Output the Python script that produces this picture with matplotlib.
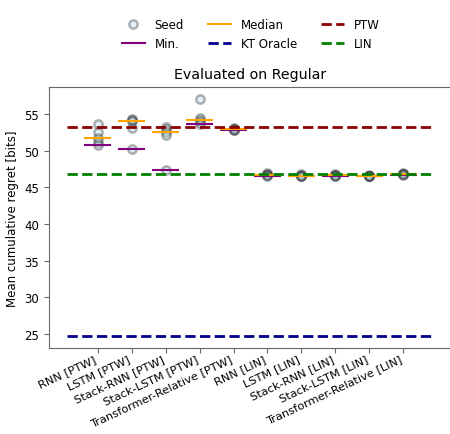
import numpy as np
import matplotlib
matplotlib.use("Agg")
import matplotlib.pyplot as plt
from matplotlib.lines import Line2D

# model names on the x axis
models = ["RNN [PTW]", "LSTM [PTW]", "Stack-RNN [PTW]", "Stack-LSTM [PTW]",
          "Transformer-Relative [PTW]", "RNN [LIN]", "LSTM [LIN]",
          "Stack-RNN [LIN]", "Stack-LSTM [LIN]", "Transformer-Relative [LIN]"]

# per-seed mean cumulative regret (bits)
seeds = [
    [53.6, 52.6, 51.7, 51.2, 50.8],
    [54.3, 54.2, 54.1, 53.1, 50.2],
    [53.2, 52.9, 52.5, 52.1, 47.3],
    [57.1, 54.4, 54.2, 53.9, 53.6],
    [53.1, 53.0, 52.9, 52.85, 52.8],
    [46.9, 46.8, 46.7, 46.65, 46.6],
    [46.75, 46.7, 46.6, 46.55, 46.5],
    [46.8, 46.7, 46.7, 46.6, 46.55],
    [46.7, 46.6, 46.6, 46.55, 46.5],
    [46.9, 46.85, 46.8, 46.75, 46.7],
]

# baselines
kt_oracle = 24.7
ptw = 53.27
lin = 46.85

plt.rcParams["font.size"] = 8.5

fig = plt.figure(figsize=(4.5, 4.35), dpi=100)
ax = fig.add_axes([49 / 450, 86 / 435, 403 / 450, 261.3 / 435])

x = np.arange(len(models))
for i, vals in enumerate(seeds):
    ax.plot([x[i]] * len(vals), vals, "o", ms=6, mfc="lightblue", mec="0.15",
            mew=1.8, alpha=0.35, zorder=2)
    ax.hlines(np.min(vals), x[i] - 0.4, x[i] + 0.4, color="purple", lw=1.5, zorder=3)
    ax.hlines(np.median(vals), x[i] - 0.4, x[i] + 0.4, color="orange", lw=1.5, zorder=3)

ax.hlines(kt_oracle, -0.9, 9.9, color="darkblue", ls="--", lw=2, zorder=4)
ax.hlines(ptw, -0.9, 9.9, color="darkred", ls="--", lw=2, zorder=4)
ax.hlines(lin, -0.9, 9.9, color="green", ls="--", lw=2, zorder=4)

ax.set_xticks(x)
ax.set_xticklabels(models, rotation=25, ha="right", fontsize=8.2)
ax.tick_params(axis="x", pad=0.5)
ax.set_ylabel("Mean cumulative regret [bits]")
ax.set_title("Evaluated on Regular", fontsize=10.2)
for s in ax.spines.values():
    s.set_color("0.4")
ax.tick_params(color="0.4")

handles = [
    Line2D([], [], marker="o", ls="", ms=6, mfc="lightblue", mec="0.15", mew=1.8, alpha=0.35),
    Line2D([], [], color="purple", lw=1.5),
    Line2D([], [], color="orange", lw=1.5),
    Line2D([], [], color="darkblue", ls="--", lw=2),
    Line2D([], [], color="darkred", ls="--", lw=2),
    Line2D([], [], color="green", ls="--", lw=2),
]
labels = ["Seed", "Min.", "Median", "KT Oracle", "PTW", "LIN"]
ax.legend(handles, labels, ncol=3, frameon=False, loc="lower center",
          bbox_to_anchor=(0.5, 1.1), columnspacing=2.0)

fig.savefig("out.png", dpi=100)
